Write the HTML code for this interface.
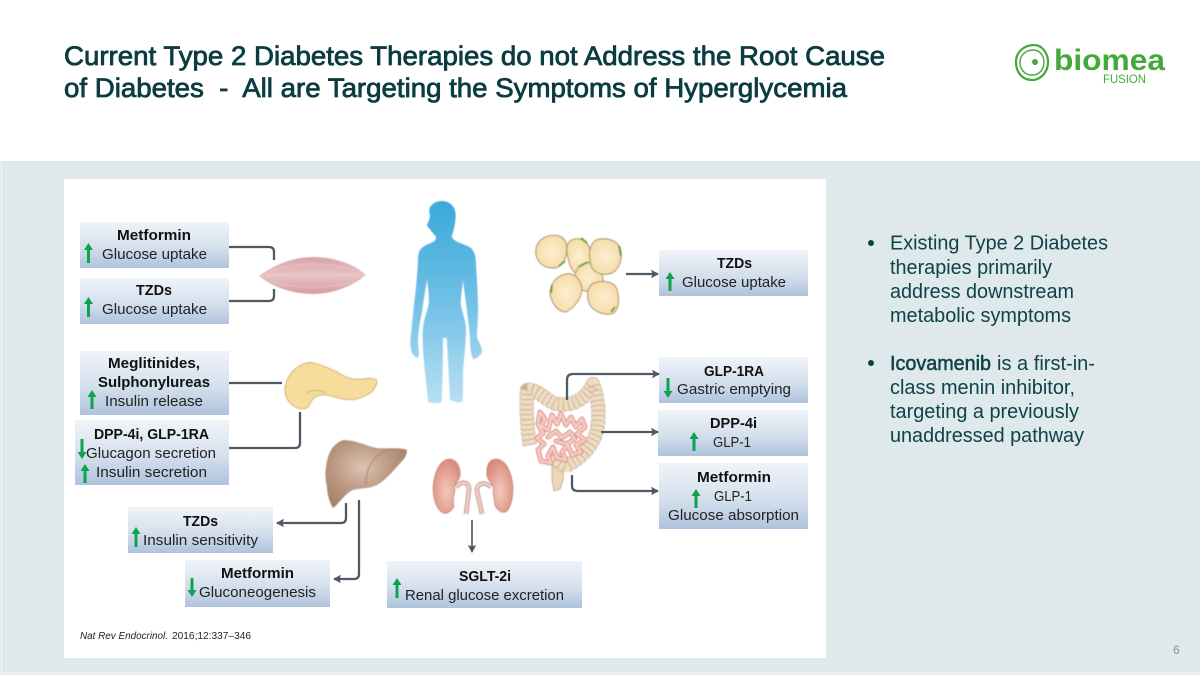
<!DOCTYPE html>
<html lang="en"><head><meta charset="utf-8"><title>Current Type 2 Diabetes Therapies</title>
<style>
html,body{margin:0;padding:0;background:#fff;width:1200px;height:675px;overflow:hidden}
svg{display:block}
text{font-family:"Liberation Sans",Arial,sans-serif}
.t{font-size:27px;fill:#0b3c42;stroke:#0b3c42;stroke-width:.8}
.b{font-size:20px;fill:#0e4349}
.h{font-size:15px;font-weight:bold;fill:#111}
.s{font-size:15px;fill:#222}
</style></head><body>
<svg width="1200" height="675" viewBox="0 0 1200 675" xmlns="http://www.w3.org/2000/svg">
<defs>
<linearGradient id="box" x1="0" y1="0" x2="0" y2="1"><stop offset="0" stop-color="#f0f4f9"/><stop offset=".55" stop-color="#d5e0ed"/><stop offset="1" stop-color="#aec3dc"/></linearGradient>
<linearGradient id="body" x1="0" y1="0" x2="0" y2="1"><stop offset="0" stop-color="#3aa9da"/><stop offset=".5" stop-color="#71c0e6"/><stop offset="1" stop-color="#b9e0f3"/></linearGradient>
<linearGradient id="mus" x1="0" y1="0" x2="0" y2="1"><stop offset="0" stop-color="#d6a3a8"/><stop offset=".5" stop-color="#e8c3c2"/><stop offset="1" stop-color="#d39ca3"/></linearGradient>
<radialGradient id="liv" cx=".45" cy=".4" r=".7"><stop offset="0" stop-color="#dcc3b3"/><stop offset=".55" stop-color="#b8957e"/><stop offset="1" stop-color="#a07c65"/></radialGradient>
<radialGradient id="kid" cx=".5" cy=".6" r=".65"><stop offset="0" stop-color="#f2c9bd"/><stop offset="1" stop-color="#d98675"/></radialGradient>
<radialGradient id="fat" cx=".5" cy=".5" r=".6"><stop offset="0" stop-color="#fcefd2"/><stop offset="1" stop-color="#f5d9a2"/></radialGradient>
<filter id="soft" x="-5%" y="-5%" width="110%" height="110%"><feGaussianBlur stdDeviation=".45"/></filter>
<marker id="ah" markerUnits="userSpaceOnUse" markerWidth="9" markerHeight="10" refX="7" refY="5" orient="auto"><path d="M0 .8L8 5L0 9.2L1.5 5Z" fill="#4f5a64"/></marker>
</defs>
<rect width="1200" height="675" fill="#fff"/>
<rect x="0" y="161" width="1200" height="514" fill="#dfe8ea"/>
<rect x="1" y="161" width="1" height="514" fill="#f2f6f7"/>
<rect x="0" y="672" width="1200" height="3" fill="#e9eff0"/>
<rect x="64" y="179" width="762" height="479" fill="#fff"/>

<text class="t" x="64" y="65" textLength="821" lengthAdjust="spacingAndGlyphs">Current Type 2 Diabetes Therapies do not Address the Root Cause</text>
<text class="t" x="64" y="97" xml:space="preserve" textLength="783" lengthAdjust="spacingAndGlyphs">of Diabetes  -  All are Targeting the Symptoms of Hyperglycemia</text>

<!-- logo -->
<g fill="none" stroke="#45a83a">
<path d="M1034 45C1042 45 1048 53 1048 62C1048 72 1041 80 1032 80C1022 80 1016 72 1016 62C1016 52 1024 45 1034 45Z" stroke-width="2.200"/>
<path d="M1033 50C1040 50 1044 56 1044 62C1044 70 1039 75 1032 75C1025 75 1020 70 1020 62C1020 55 1026 50 1033 50Z" stroke-width="1.400"/>
</g>
<circle cx="1035" cy="62" r="3" fill="#45a83a"/>
<text x="1054" y="70" font-size="30" font-weight="bold" fill="#45a83a" textLength="111" lengthAdjust="spacingAndGlyphs">biomea</text>
<text x="1103" y="83" font-size="12" fill="#45a83a" textLength="43" lengthAdjust="spacingAndGlyphs">FUSION</text>

<!-- bullets -->
<circle cx="871" cy="243" r="3" fill="#0e4349"/><circle cx="871" cy="363" r="3" fill="#0e4349"/>
<text class="b" x="890" y="249.500" textLength="218" lengthAdjust="spacingAndGlyphs">Existing Type 2 Diabetes</text>
<text class="b" x="890" y="274" textLength="162" lengthAdjust="spacingAndGlyphs">therapies primarily</text>
<text class="b" x="890" y="298" textLength="184" lengthAdjust="spacingAndGlyphs">address downstream</text>
<text class="b" x="890" y="322" textLength="181" lengthAdjust="spacingAndGlyphs">metabolic symptoms</text>
<text class="b" x="890" y="370" textLength="101" lengthAdjust="spacingAndGlyphs" stroke="#0e4349" stroke-width=".5">Icovamenib</text>
<text class="b" x="997" y="370" textLength="98" lengthAdjust="spacingAndGlyphs">is a first-in-</text>
<text class="b" x="890" y="394" textLength="185" lengthAdjust="spacingAndGlyphs">class menin inhibitor,</text>
<text class="b" x="890" y="418" textLength="189" lengthAdjust="spacingAndGlyphs">targeting a previously</text>
<text class="b" x="890" y="442" textLength="194" lengthAdjust="spacingAndGlyphs">unaddressed pathway</text>
<text x="1173" y="654" font-size="12" fill="#8a9396">6</text>

<!-- label boxes -->
<g fill="url(#box)">
<rect x="80" y="222" width="149" height="46"/><rect x="80" y="278" width="149" height="46"/>
<rect x="80" y="351" width="149" height="64"/><rect x="75" y="420" width="154" height="65"/>
<rect x="128" y="507" width="145" height="46"/><rect x="185" y="560" width="145" height="47"/>
<rect x="387" y="561" width="195" height="47"/><rect x="659" y="250" width="149" height="46"/>
<rect x="659" y="357" width="149" height="46"/><rect x="658" y="410" width="150" height="46"/>
<rect x="659" y="463" width="149" height="66"/>
</g>

<!-- organs -->
<g filter="url(#soft)">
<path fill="url(#body)" d="M441.700 201C450 201 455.700 207 455.700 215C455.700 224 453 232 451.700 237C455 243 466 244 471 248C475 252 476 258 476 264C477 280 478 295 478 310C478 322 477 330 477 338C479 342 482 347 482 352C480 356 476 359 473 359C471 354 470 348 470 342C470 330 468 320 467 312C466 300 464 290 463 280C462 290 461 296 460.700 303C462 313 466 320 466 330C466 343 464 357 463 372C463 382 463 392 462.700 402C458 403 454 402 450 400C449 380 448 358 446.700 338L443 338C443 358 442.500 380 441.700 402C437 404 432 403 428 402C427 388 425 375 424 362C423 350 422 340 423 328C424 318 428 310 429 302C429 294 428 288 427 280C425 292 423 304 422 312C420 322 418 332 418 342C418 348 420 354 418 358C415 357 412.500 355 411.700 352C410 346 410 342 411 335C412 324 413 314 414 305C416 290 417 276 418 262C418 256 418 254 420 250C424 245 429 244 433 242C435 241 436 239 436 237C434 234 433 233 431.700 232C430.500 229 428 228 427 225C428 222 430 219 430 215C429 212 429 209 430 207C433 203 437 201 441.700 201Z"/>
<path fill="url(#mus)" d="M259 276C275 264 295 257 313 257C334 257 354 264 366 275C353 286 333 294 313 294C293 294 272 287 259 276Z"/>
<g stroke="#f0d8d6" stroke-width="1" fill="none" opacity=".5"><path d="M272 270Q313 258 354 270"/><path d="M266 276Q313 271 360 276"/><path d="M272 282Q313 293 354 282"/></g>
<path fill="#f6dd9c" stroke="#d2ae68" stroke-width="1.200" stroke-dasharray="2 .6" d="M285 387C287 375 296 366 306 363C314 361 326 367 337 372C345 377 351 380 362 379C371 378 377 378 377 382C375 390 371 394 362 397C352 402 342 399 327 395C320 394 314 396 311 402C309 408 305 410 298 408C290 406 284 397 285 387Z"/>
<path fill="none" stroke="#d2ae6c" stroke-width="1" d="M306 394C311 389 320 390 326 393"/>
<path fill="url(#liv)" d="M343 440C356 440 366 446 377 448C388 449 400 447 407 450C407 454 405 458 403 460C394 470 386 480 377 485C368 489 360 488 353 490C344 494 340 503 333 508C330 503 327 495 327 487C325 478 325 472 326 467C327 458 330 450 334 446C337 443 340 441 343 440Z"/>
<path fill="none" stroke="#a98670" stroke-width="1" d="M391 449C376 453 366 464 366 484"/>
<path fill="url(#kid)" stroke="#b9786a" stroke-width=".6" d="M449 459C456 459 461 466 460 476C459 482 453 483 455 489C455 494 452 497 454 506C451 512 447 514 443 513C436 509 433 498 433 487C434 474 439 460 449 459Z"/>
<path fill="url(#kid)" stroke="#b9786a" stroke-width=".6" d="M496 459C489 459 486 466 487 476C488 482 494 483 493 489C493 494 494 498 495 506C499 512 503 514 507 511C512 505 513 496 513 487C512 473 506 459 496 459Z"/>
<g fill="none" stroke="#b88a82" stroke-width="4.500"><path d="M456 487C462 481 469 481 469 490L466 514"/><path d="M491 487C484 481 477 483 477 491L482 514"/></g>
<g fill="none" stroke="#f0cfc6" stroke-width="2.800"><path d="M456 487C462 481 469 481 469 490L466 514"/><path d="M491 487C484 481 477 483 477 491L482 514"/></g>
<!-- fat cells -->
<g fill="url(#fat)" stroke="#a89468" stroke-width="1">
<path d="M570 241C578 236 588 240 590 250C592 260 590 270 582 274C574 276 570 268 568 258C566 250 566 244 570 241Z"/>
<path d="M548 236C556 234 564 236 566 243C568 252 566 262 558 267C550 270 540 266 537 258C534 250 536 240 548 236Z"/>
<path d="M578 268C584 260 594 262 600 270C604 276 604 284 600 288C592 294 582 292 578 286C574 280 574 274 578 268Z"/>
<path d="M596 240C606 237 616 240 620 247C623 256 621 268 612 273C606 276 596 274 592 268C588 256 588 246 596 240Z"/>
<path d="M566 274C574 272 582 280 582 291C580 300 574 308 566 312C558 312 552 304 550 294C550 284 556 276 566 274Z"/>
<path d="M594 283C603 280 615 281 617 290C620 300 619 312 611 314C603 315 592 311 589 303C586 294 588 286 594 283Z"/>
</g>
<g fill="none" stroke="#6aa046" stroke-width="2"><path d="M581 238L587 243"/><path d="M619 246L621 256"/><path d="M559 266L565 261"/><path d="M578 267L588 262"/><path d="M552 285L551 293"/><path d="M611 312L615 307"/></g>
<!-- intestine -->
<path fill="#ecd6b4" stroke="#bda180" stroke-width=".8" d="M553 456L564 462L563 480L560 489L554 491L552 480L552 468Z"/>
<g fill="none" stroke-linejoin="round">
<path stroke="#bba38a" stroke-width="14" stroke-dasharray="4 1" d="M530 445C527 430 526 408 527 390C537 388 545 400 556 404C570 406 584 402 593 384C599 400 600 420 596 434C590 450 578 460 566 466C560 464 556 460 555 454"/>
<path stroke="#eedcc3" stroke-width="12.500" d="M530 445C527 430 526 408 527 390C537 388 545 400 556 404C570 406 584 402 593 384C599 400 600 420 596 434C590 450 578 460 566 466C560 464 556 460 555 454"/>
<path stroke="#c9b094" stroke-width="12" stroke-dasharray="1 4" d="M530 445C527 430 526 408 527 390C537 388 545 400 556 404C570 406 584 402 593 384C599 400 600 420 596 434C590 450 578 460 566 466C560 464 556 460 555 454"/>
<path stroke="#d98f8c" stroke-width="5" stroke-linecap="round" d="M540 412L545 419L541 426L548 430L552 415L557 424L561 414L566 425L571 417L576 427L582 419L585 427L577 434L585 440L576 445L581 452L572 455L568 445L562 452L566 460L557 458L553 447L548 456L551 463L541 461L538 450L544 444L537 438L543 433L538 424ZM548 437L556 431L562 438L570 432L575 439L566 444L556 441"/>
<path stroke="#f7c9c0" stroke-width="3" stroke-linecap="round" d="M540 412L545 419L541 426L548 430L552 415L557 424L561 414L566 425L571 417L576 427L582 419L585 427L577 434L585 440L576 445L581 452L572 455L568 445L562 452L566 460L557 458L553 447L548 456L551 463L541 461L538 450L544 444L537 438L543 433L538 424ZM548 437L556 431L562 438L570 432L575 439L566 444L556 441"/>
</g>
</g>

<!-- connectors -->
<g fill="none" stroke="#4f5a64" stroke-width="2.300">
<path d="M229 247H269Q274 247 274 252V260"/>
<path d="M229 301H269Q274 301 274 296V289"/>
<path d="M229 383H282"/>
<path d="M300 412V443Q300 448 295 448H229"/>
<path d="M346 503V518Q346 523 341 523H277" marker-end="url(#ah)"/>
<path d="M359 500V574Q359 579 354 579H334" marker-end="url(#ah)"/>
<path d="M472 520V552" marker-end="url(#ah)" stroke-width="1.700"/>
<path d="M626 274H658" marker-end="url(#ah)"/>
<path d="M567 400V380Q567 374 573 374H659" marker-end="url(#ah)"/>
<path d="M601 432H658" marker-end="url(#ah)"/>
<path d="M572 475V486Q572 491 578 491H658" marker-end="url(#ah)"/>
</g>

<!-- green arrows -->
<g fill="#0fa34f">
<path d="M87 263V250H84L88.500 243L93 250H90V263Z"/>
<path d="M87 317V304H84L88.500 297L93 304H90V317Z"/>
<path d="M90.500 409V397H87.500L92 390L96.500 397H93.500V409Z"/>
<path d="M80.500 439V452H77.500L82 459L86.500 452H83.500V439Z"/>
<path d="M83.500 483V471H80.500L85 464L89.500 471H86.500V483Z"/>
<path d="M134.500 547V534H131.500L136 527L140.500 534H137.500V547Z"/>
<path d="M190.500 578V590H187.500L192 597L196.500 590H193.500V578Z"/>
<path d="M395.500 598V585H392.500L397 578L401.500 585H398.500V598Z"/>
<path d="M668.500 291V279H665.500L670 272L674.500 279H671.500V291Z"/>
<path d="M666.500 378V391H663.500L668 398L672.500 391H669.500V378Z"/>
<path d="M692.500 451V439H689.500L694 432L698.500 439H695.500V451Z"/>
<path d="M694.500 508V496H691.500L696 489L700.500 496H697.500V508Z"/>
</g>

<!-- labels -->
<text class="h" x="117" y="240" textLength="74" lengthAdjust="spacingAndGlyphs">Metformin</text>
<text class="s" x="102" y="259" textLength="105" lengthAdjust="spacingAndGlyphs">Glucose uptake</text>
<text class="h" x="136" y="295" textLength="36" lengthAdjust="spacingAndGlyphs">TZDs</text>
<text class="s" x="102" y="314" textLength="105" lengthAdjust="spacingAndGlyphs">Glucose uptake</text>
<text class="h" x="108" y="368" textLength="92" lengthAdjust="spacingAndGlyphs">Meglitinides,</text>
<text class="h" x="98" y="387" textLength="112" lengthAdjust="spacingAndGlyphs">Sulphonylureas</text>
<text class="s" x="105" y="406" textLength="98" lengthAdjust="spacingAndGlyphs">Insulin release</text>
<text class="h" x="94" y="439" textLength="115" lengthAdjust="spacingAndGlyphs">DPP-4i, GLP-1RA</text>
<text class="s" x="86" y="458" textLength="130" lengthAdjust="spacingAndGlyphs">Glucagon secretion</text>
<text class="s" x="96" y="477" textLength="111" lengthAdjust="spacingAndGlyphs">Insulin secretion</text>
<text class="h" x="183" y="526" textLength="35" lengthAdjust="spacingAndGlyphs">TZDs</text>
<text class="s" x="143" y="545" textLength="115" lengthAdjust="spacingAndGlyphs">Insulin sensitivity</text>
<text class="h" x="221" y="578" textLength="73" lengthAdjust="spacingAndGlyphs">Metformin</text>
<text class="s" x="199" y="597" textLength="117" lengthAdjust="spacingAndGlyphs">Gluconeogenesis</text>
<text class="h" x="459" y="581" textLength="52" lengthAdjust="spacingAndGlyphs">SGLT-2i</text>
<text class="s" x="405" y="600" textLength="159" lengthAdjust="spacingAndGlyphs">Renal glucose excretion</text>
<text class="h" x="717" y="268" textLength="35" lengthAdjust="spacingAndGlyphs">TZDs</text>
<text class="s" x="682" y="287" textLength="104" lengthAdjust="spacingAndGlyphs">Glucose uptake</text>
<text class="h" x="704" y="376" textLength="60" lengthAdjust="spacingAndGlyphs">GLP-1RA</text>
<text class="s" x="677" y="394" textLength="114" lengthAdjust="spacingAndGlyphs">Gastric emptying</text>
<text class="h" x="710" y="428" textLength="47" lengthAdjust="spacingAndGlyphs">DPP-4i</text>
<text class="s" x="713" y="447" textLength="38" lengthAdjust="spacingAndGlyphs">GLP-1</text>
<text class="h" x="697" y="482" textLength="74" lengthAdjust="spacingAndGlyphs">Metformin</text>
<text class="s" x="714" y="501" textLength="38" lengthAdjust="spacingAndGlyphs">GLP-1</text>
<text class="s" x="668" y="520" textLength="131" lengthAdjust="spacingAndGlyphs">Glucose absorption</text>

<text x="80" y="639" font-size="10.500" font-style="italic" fill="#222" textLength="88" lengthAdjust="spacingAndGlyphs">Nat Rev Endocrinol.</text>
<text x="172" y="639" font-size="10.500" fill="#222" textLength="79" lengthAdjust="spacingAndGlyphs">2016;12:337–346</text>
</svg>
</body></html>
